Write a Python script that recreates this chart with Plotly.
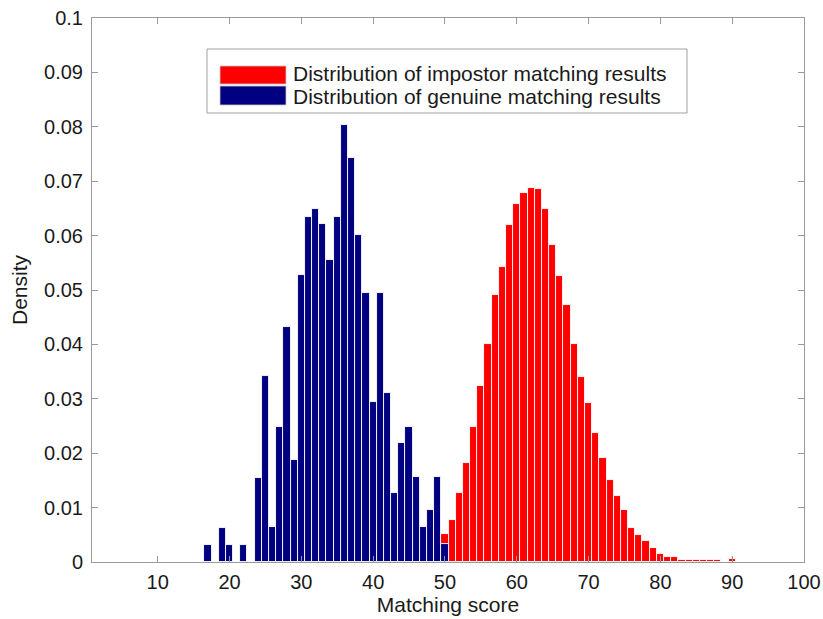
import plotly.graph_objects as go

# ---------------- data ----------------
genuine_scores = list(range(17, 51))
genuine_density = [0.0032, 0, 0.0063, 0.0032, 0, 0.0032, 0, 0.0155, 0.0342, 0.0065,
                   0.0248, 0.0432, 0.0188, 0.0527, 0.0635, 0.0648, 0.0621, 0.0556,
                   0.0635, 0.0803, 0.0743, 0.0602, 0.0495, 0.0295, 0.0495, 0.0311,
                   0.0127, 0.0218, 0.0249, 0.0156, 0.0065, 0.0095, 0.0156, 0.0033]

impostor_scores = list(range(48, 91))
impostor_density = [0.0015, 0.0030, 0.0051, 0.0078, 0.0127, 0.0182, 0.0249, 0.0323,
                    0.0401, 0.0490, 0.0542, 0.0619, 0.0659, 0.0679, 0.0688, 0.0685,
                    0.0648, 0.0583, 0.0525, 0.0472, 0.0401, 0.0340, 0.0293, 0.0237,
                    0.0192, 0.0150, 0.0121, 0.0095, 0.0063, 0.0049, 0.0039, 0.0025,
                    0.0015, 0.0009, 0.0009, 0.0004, 0.0004, 0.0004, 0.0004, 0.0004,
                    0.0004, 0.0, 0.0005]

series_names = ["Distribution of impostor matching results",
                "Distribution of genuine matching results"]
x_ticks = list(range(10, 101, 10))
y_ticks = [i / 100 for i in range(0, 11)]
y_ticklabels = ["0"] + [f"{v:g}" for v in y_ticks[1:]]

RED = "#FF0000"
BLUE = "#000080"
FONT = "Liberation Sans, Arial, Helvetica, sans-serif"
FS_TICK = 20
FS_TEXT = 21
FS_LEG = 21
TXT = "#1a1a1a"

# ---------------- layout geometry ----------------
W, H = 823, 619
ML, MR, MT, MB = 92, 19, 18, 57
PW, PH = W - ML - MR, H - MT - MB


def px_x(px):
    return (px - ML) / PW


def px_y(py):
    return (H - MB - py) / PH


fig = go.Figure()
fig.add_trace(go.Bar(x=impostor_scores, y=impostor_density, name=series_names[0],
                     marker=dict(color=RED, line=dict(color="white", width=0.9)),
                     width=1, showlegend=False))
fig.add_trace(go.Bar(x=genuine_scores, y=genuine_density, name=series_names[1],
                     marker=dict(color=BLUE, line=dict(color="white", width=0.9)),
                     width=1, showlegend=False))

axis_common = dict(showline=True, linecolor="#9a9a9a", linewidth=1, mirror="ticks",
                   ticks="inside", ticklen=6, tickcolor="#9a9a9a", showgrid=False,
                   zeroline=False, automargin=False,
                   tickfont=dict(family=FONT, size=FS_TICK, color=TXT))

fig.update_layout(
    width=W, height=H,
    margin=dict(l=ML, r=MR, t=MT, b=MB),
    paper_bgcolor="white", plot_bgcolor="white",
    barmode="overlay", bargap=0,
    font=dict(family=FONT, size=FS_TICK, color=TXT),
    xaxis=dict(range=[0.85, 100], tickvals=x_ticks, ticklabelstandoff=2,
               title=dict(text="Matching score", font=dict(family=FONT, size=FS_TEXT, color=TXT),
                          standoff=0),
               **axis_common),
    yaxis=dict(range=[0, 0.1], tickvals=y_ticks, ticktext=y_ticklabels, ticklabelstandoff=4,
               title=dict(text="Density", font=dict(family=FONT, size=FS_TEXT, color=TXT),
                          standoff=10),
               **axis_common),
)

# ---------------- custom legend (wide swatches like the original) ----------------
fig.add_shape(type="rect", xref="paper", yref="paper",
              x0=px_x(207), x1=px_x(687), y0=px_y(113), y1=px_y(49),
              line=dict(color="#a0a0a0", width=1), fillcolor="white", layer="above")
swatches = [(RED, 66, 84, 73.5), (BLUE, 86, 105, 96.5)]
for (col, top, bot, cy), name in zip(swatches, series_names):
    fig.add_shape(type="rect", xref="paper", yref="paper",
                  x0=px_x(220), x1=px_x(286), y0=px_y(bot), y1=px_y(top),
                  line=dict(color="#c8c8c8", width=0.8), fillcolor=col, layer="above")
    fig.add_annotation(xref="paper", yref="paper", x=px_x(292), y=px_y(cy),
                       text=name, showarrow=False, xanchor="left", yanchor="middle",
                       borderpad=0,
                       font=dict(family=FONT, size=FS_LEG, color=TXT))

fig.write_html("out.html", config={"displayModeBar": False},
               post_script="document.body.style.margin='0';document.body.style.overflow='hidden';")
